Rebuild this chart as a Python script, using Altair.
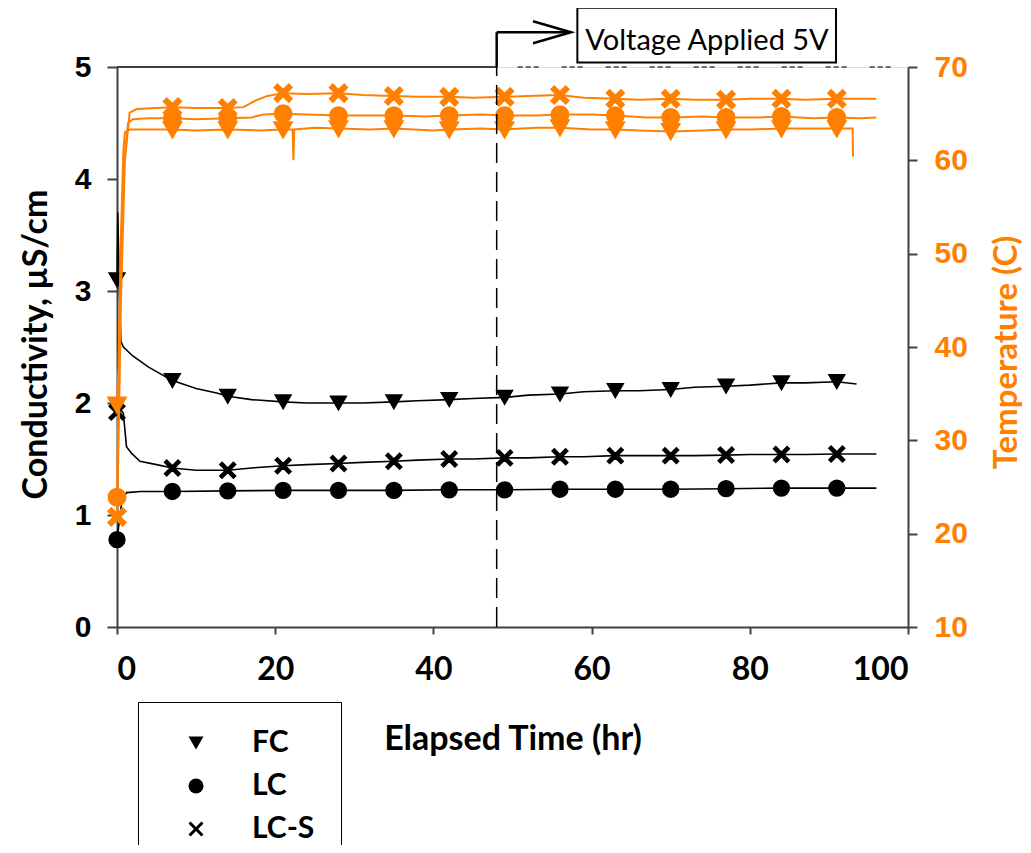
import altair as alt
import pandas as pd

ORANGE = "#ff8000"
AXIS = "#404040"

# ---------------- data ----------------
marker_times = [0, 7, 14, 21, 28, 35, 42, 49, 56, 63, 70, 77, 84, 91]
series_names = ["FC", "LC", "LC-S"]

# Conductivity (uS/cm)
fc_cond_t = [0, 0.1, 0.3, 0.5, 0.8, 2, 4, 5.5, 7, 10, 12.6, 14, 17, 21, 24, 28, 31, 35, 38,
             42, 45, 49, 52, 56, 59, 63, 66, 70, 73, 77, 80, 84, 87, 91, 93.5]
fc_cond_v = [3.1, 3.7, 3.0, 2.55, 2.5, 2.42, 2.32, 2.26, 2.2, 2.13, 2.09, 2.06, 2.03, 2.01, 2.0,
             2.0, 2.0, 2.01, 2.02, 2.03, 2.04, 2.05, 2.07, 2.08, 2.10, 2.11, 2.11, 2.12, 2.14,
             2.15, 2.16, 2.18, 2.18, 2.19, 2.17]

lc_cond_t = [0, 0.6, 1.2, 3, 7, 14, 21, 28, 35, 42, 49, 56, 63, 70, 77, 84, 91, 96]
lc_cond_v = [0.78, 1.12, 1.2, 1.21, 1.21, 1.215, 1.22, 1.22, 1.22, 1.225, 1.225, 1.23, 1.23,
             1.23, 1.235, 1.24, 1.24, 1.24]

lcs_cond_t = [0, 0.3, 0.8, 1.2, 1.85, 2.9, 5, 7, 10, 14, 17, 21, 24, 28, 31, 35, 38, 42, 45,
              49, 52, 56, 59, 63, 66, 70, 73, 77, 80, 84, 87, 91, 96]
lcs_cond_v = [1.92, 1.95, 1.91, 1.61, 1.55, 1.48, 1.45, 1.42, 1.40, 1.40, 1.42, 1.44, 1.45,
              1.46, 1.47, 1.48, 1.49, 1.50, 1.50, 1.51, 1.51, 1.52, 1.52, 1.53, 1.53, 1.53,
              1.53, 1.535, 1.54, 1.54, 1.54, 1.545, 1.545]

# Temperature (C)
fc_temp_t = [0, 0.2, 0.5, 0.8, 1.0, 1.6, 3, 7, 10, 14, 18, 21, 22.2, 22.3, 22.4, 25, 28, 32,
             35, 40, 42, 46, 49, 53, 56, 60, 63, 66, 70, 74, 77, 80, 84, 88, 91, 93, 93.05]
fc_temp_v = [33.8, 38, 52, 61, 63.0, 63.3, 63.3, 63.3, 63.2, 63.3, 63.2, 63.3, 63.3, 60.0,
             63.3, 63.5, 63.4, 63.3, 63.4, 63.2, 63.3, 63.4, 63.3, 63.5, 63.5, 63.3, 63.3,
             63.2, 63.1, 63.2, 63.3, 63.3, 63.4, 63.4, 63.4, 63.4, 60.4]

lc_temp_t = [0, 0.2, 0.5, 0.9, 1.4, 2, 4, 7, 10, 14, 17, 18.5, 21, 24, 28, 32, 35, 39, 42, 46,
             49, 53, 56, 60, 63, 67, 70, 74, 77, 81, 84, 88, 91, 94, 96]
lc_temp_v = [23.9, 35, 50, 60, 64.0, 64.4, 64.5, 64.5, 64.4, 64.5, 64.6, 64.9, 65.0, 64.9,
             64.8, 64.8, 64.8, 64.7, 64.8, 64.9, 64.8, 64.8, 64.9, 64.9, 64.8, 64.6, 64.6,
             64.7, 64.6, 64.6, 64.7, 64.5, 64.6, 64.5, 64.6]

lcs_temp_t = [0, 0.2, 0.5, 1.0, 1.6, 2.5, 5, 7, 10, 14, 16, 17.5, 19, 21, 24, 28, 31, 35, 38,
              42, 45, 49, 52, 56, 59, 63, 66, 70, 73, 77, 80, 84, 87, 91, 94, 96]
lcs_temp_v = [21.8, 30, 45, 60, 65.1, 65.5, 65.6, 65.7, 65.6, 65.6, 65.7, 66.4, 66.9, 67.2,
              67.1, 67.2, 67.0, 66.9, 66.8, 66.8, 66.7, 66.8, 66.9, 67.0, 66.7, 66.6, 66.5,
              66.6, 66.5, 66.5, 66.6, 66.6, 66.5, 66.6, 66.6, 66.6]

x_ticks = [0, 20, 40, 60, 80, 100]
cond_ticks = [0, 1, 2, 3, 4, 5]
temp_ticks = [10, 20, 30, 40, 50, 60, 70]
voltage_time = 48
voltage_label = "Voltage Applied 5V"


def frame(t, v, name):
    return pd.DataFrame({"time": t, "value": v, "series": name})


cond_df = pd.concat([frame(fc_cond_t, fc_cond_v, "FC"),
                     frame(lc_cond_t, lc_cond_v, "LC"),
                     frame(lcs_cond_t, lcs_cond_v, "LC-S")], ignore_index=True)
temp_df = pd.concat([frame(fc_temp_t, fc_temp_v, "FC"),
                     frame(lc_temp_t, lc_temp_v, "LC"),
                     frame(lcs_temp_t, lcs_temp_v, "LC-S")], ignore_index=True)
cond_mk = cond_df[cond_df["time"].isin(marker_times)]
temp_mk = temp_df[temp_df["time"].isin(marker_times)]

# filled "x" glyph (closed polygon so it can be filled in plot and legend)
XPATH = ("M-1,-0.72L-0.72,-1L0,-0.28L0.72,-1L1,-0.72L0.28,0L1,0.72L0.72,1L0,0.28"
         "L-0.72,1L-1,0.72L-0.28,0Z")
shape_scale = alt.Scale(domain=series_names, range=["triangle-down", "circle", XPATH])

x_enc = alt.X("time:Q", scale=alt.Scale(domain=[0, 100], nice=False),
              axis=alt.Axis(values=x_ticks, title="Elapsed Time (hr)", grid=False,
                            domainColor=AXIS, domainWidth=2, tickColor=AXIS, tickWidth=2,
                            tickSize=7, labelFont="Lato", labelFontWeight="bold",
                            labelFontSize=32, labelColor="black", labelPadding=20,
                            titleFont="Lato", titleFontWeight="bold", titleFontSize=34,
                            titleColor="black", titleBaseline="alphabetic", titleY=122))

cond_scale = alt.Scale(domain=[0, 5], nice=False, zero=False)
y_cond = alt.Y("value:Q", scale=cond_scale,
               axis=alt.Axis(values=cond_ticks, format="d", title="Conductivity, µS/cm",
                             grid=False, domainColor=AXIS, domainWidth=2, tickColor=AXIS,
                             tickWidth=2, tickSize=10, labelFont="Liberation Sans",
                             labelFontWeight="bold", labelFontSize=30, labelColor="black",
                             labelPadding=16, titleFont="Lato", titleFontWeight="bold",
                             titleFontSize=34, titleColor="black", titleAngle=270,
                             titleX=-81, titleY=277, titleAlign="center",
                             titleBaseline="middle"))

cond_lines = alt.Chart(cond_df).mark_line(color="black", strokeWidth=1.6).encode(
    x=x_enc, y=y_cond, detail="series:N")
cond_points = alt.Chart(cond_mk).mark_point(
    filled=True, color="black", stroke="black", strokeWidth=1.5, size=250, opacity=1).encode(
    x="time:Q", y="value:Q",
    shape=alt.Shape("series:N", scale=shape_scale,
                    legend=alt.Legend(title=None, orient="none", legendX=21, legendY=635,
                                      strokeColor="black", padding=26,
                                      symbolOffset=17, labelOffset=41, rowPadding=13,
                                      symbolSize=225, symbolFillColor="black",
                                      symbolStrokeColor="black", symbolStrokeWidth=1,
                                      labelFont="Lato", labelFontWeight="bold",
                                      labelFontSize=30, labelColor="black",
                                      labelExpr="datum.label + '\u00a0\u00a0\u00a0\u00a0\u00a0\u00a0\u00a0\u00a0\u00a0\u00a0\u00a0'")))
cond_layer = alt.layer(cond_lines, cond_points)

y_temp = alt.Y("value:Q", scale=alt.Scale(domain=[10, 70], nice=False, zero=False),
               axis=alt.Axis(orient="right", values=temp_ticks, title="Temperature (C)",
                             grid=False, domainColor=AXIS, domainWidth=2, tickColor=AXIS,
                             tickWidth=2, tickSize=9, labelFont="Liberation Sans",
                             labelFontWeight="bold", labelFontSize=30, labelColor=ORANGE,
                             labelPadding=17, titleFont="Lato", titleFontWeight="bold",
                             titleFontSize=33, titleColor=ORANGE, titleAngle=270,
                             titleX=98, titleY=285, titleAlign="center",
                             titleBaseline="middle"))
temp_lines = alt.Chart(temp_df).mark_line(color=ORANGE, strokeWidth=2).encode(
    x="time:Q", y=y_temp, detail="series:N")
temp_points = alt.Chart(temp_mk).mark_point(
    filled=True, color=ORANGE, stroke=ORANGE, strokeWidth=3, size=250, opacity=1).encode(
    x="time:Q", y="value:Q",
    shape=alt.Shape("series:N", scale=shape_scale, legend=None))
temp_layer = alt.layer(temp_lines, temp_points)

# ---------------- annotations (conductivity scale) ----------------
ann_scale = alt.Scale(domain=[0, 5], nice=False, zero=False)
base = alt.Chart(pd.DataFrame({"t": [voltage_time]}))

top_solid = base.mark_rule(color=AXIS, strokeWidth=2).encode(
    x=alt.X(datum=0), x2=alt.X2(datum=voltage_time),
    y=alt.Y(datum=5, scale=ann_scale, axis=None))
top_dash = base.mark_rule(color=AXIS, strokeWidth=1.5, strokeDash=[5, 3, 5, 3, 5, 23],
                          strokeDashOffset=23).encode(
    x=alt.X(datum=voltage_time), x2=alt.X2(datum=100),
    y=alt.Y(datum=5, scale=ann_scale, axis=None))
v_dash = base.mark_rule(color="black", strokeWidth=1.5, strokeDash=[20, 9]).encode(
    x=alt.X(datum=voltage_time), y=alt.Y(datum=0, scale=ann_scale, axis=None),
    y2=alt.Y2(datum=5))
arrow_v = base.mark_rule(color="black", strokeWidth=2.5).encode(
    x=alt.X(datum=voltage_time), y=alt.Y(datum=5, scale=ann_scale, axis=None),
    y2=alt.Y2(datum=5.31))
arrow_h = base.mark_rule(color="black", strokeWidth=2.5).encode(
    x=alt.X(datum=voltage_time), x2=alt.X2(datum=57.2),
    y=alt.Y(datum=5.31, scale=ann_scale, axis=None))
arrow_head = base.mark_point(shape="M-1,-0.58L1,0L-1,0.58", size=1444, color="black",
                             strokeWidth=2.5, filled=False, opacity=1).encode(
    x=alt.X(datum=55.0), y=alt.Y(datum=5.31, scale=ann_scale, axis=None))
box = base.mark_rect(fill="white", stroke="black", strokeWidth=2).encode(
    x=alt.X(datum=58.2), x2=alt.X2(datum=90.9),
    y=alt.Y(datum=5.04, scale=ann_scale, axis=None), y2=alt.Y2(datum=5.53))
box_text = base.mark_text(text=voltage_label, font="Lato", fontSize=29, align="left",
                          baseline="alphabetic", color="black").encode(
    x=alt.X(datum=59.2), y=alt.Y(datum=5.15, scale=ann_scale, axis=None))
ann_layer = alt.layer(top_solid, top_dash, v_dash, arrow_v, arrow_h, arrow_head, box,
                      box_text)

chart = alt.layer(cond_layer, temp_layer, ann_layer).resolve_scale(
    y="independent", shape="independent").properties(
    width=791, height=560,
    autosize=alt.AutoSizeParams(type="none"),
    padding={"left": 109, "top": 59, "right": 115, "bottom": 218},
).configure_view(stroke=None).configure(background="white")

chart.save("out.html", embed_options={"renderer": "svg", "actions": False})
